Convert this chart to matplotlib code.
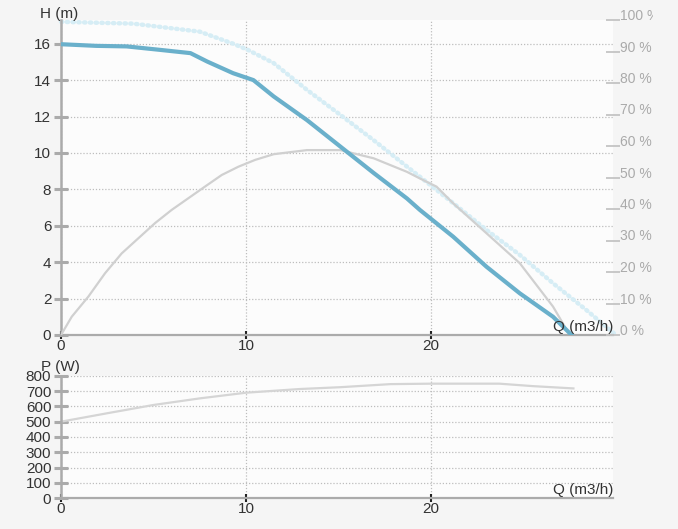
import matplotlib
matplotlib.use('Agg')
from matplotlib import pyplot as plt
from matplotlib.patches import Rectangle
import numpy as np

plt.rcParams['font.family'] = ['Liberation Sans', 'DejaVu Sans']

# pump head curve (m)
q_head = [0, 1.9, 3.55, 5.35, 7.0, 7.9, 9.3, 10.4, 11.5, 13.3, 15.1, 16.9, 18.7, 19.4, 21.2, 23.0, 24.8, 26.6, 27.6]
head = [15.97, 15.88, 15.85, 15.66, 15.48, 15.02, 14.38, 14.0, 13.1, 11.8, 10.35, 8.9, 7.5, 6.87, 5.4, 3.75, 2.29, 1.0, 0]

# max head curve (light dotted)
q_hmax = [0, 3.9, 7.5, 9.3, 10.1, 11.5, 13.3, 15.1, 16.9, 18.7, 20.3, 21.2, 23.0, 24.8, 26.6, 28.4, 30.0]
hmax = [17.2, 17.1, 16.66, 16.0, 15.66, 14.93, 13.46, 12.09, 10.7, 9.25, 7.97, 7.24, 5.77, 4.4, 2.84, 1.37, 0]

# efficiency (%)
q_eff = [0, 0.58, 1.48, 2.38, 3.28, 4.18, 5.08, 5.98, 6.88, 7.78, 8.69, 9.58, 10.5, 11.5, 13.3, 15.1,
         16.9, 18.7, 19.4, 20.3, 21.2, 23.0, 24.8, 26.6, 27.3]
eff = [0, 5.8, 12.2, 19.6, 25.9, 30.7, 35.5, 39.7, 43.4, 47.1, 50.8, 53.4, 55.6, 57.4, 58.7, 58.7,
       56.1, 51.8, 49.7, 47.1, 41.8, 32.3, 22.8, 9.0, 2.0]

# power (W)
q_pow = [0, 2.5, 5, 7.5, 10, 12.9, 15.1, 17.8, 20, 23.7, 25.5, 27.7]
power = [500, 555, 609, 652, 689, 713, 725, 745, 748, 748, 732, 717]

h_ticks = [0, 2, 4, 6, 8, 10, 12, 14, 16]
eff_ticks = [0, 10, 20, 30, 40, 50, 60, 70, 80, 90, 100]
eff_labels = [str(t) + ' %' for t in eff_ticks]
p_ticks = [0, 100, 200, 300, 400, 500, 600, 700, 800]
q_ticks = [0, 10, 20]

W, Hpx = 678, 529
bg = '#f5f5f5'
area = '#fcfcfc'
spine_c = '#ababab'
grid_c = '#bdbdbd'
txt_c = '#333333'

fig = plt.figure(figsize=(W / 100, Hpx / 100), dpi=100, facecolor=bg)

def px_axes(x0, y0, x1, y1):
    return fig.add_axes([x0 / W, 1 - y1 / Hpx, (x1 - x0) / W, (y1 - y0) / Hpx])

def style(ax):
    ax.set_facecolor(area)
    for s in ['top', 'right']:
        ax.spines[s].set_visible(False)
    ax.spines['left'].set_color(spine_c)
    ax.spines['left'].set_linewidth(1.8)
    ax.spines['bottom'].set_color(spine_c)
    ax.spines['bottom'].set_linewidth(1.6)
    ax.tick_params(axis='y', direction='inout', length=10, width=2.2, color=spine_c,
                   pad=2, labelsize=11, labelcolor=txt_c)
    ax.tick_params(axis='x', direction='inout', length=6, width=1.5, color='#222222',
                   pad=0, labelsize=11, labelcolor=txt_c)
    ax.grid(True, linestyle=(0, (1, 1.5)), color=grid_c, linewidth=0.9)
    ax.set_axisbelow(True)
    ax.set_xticks(q_ticks)

# top chart
ax = px_axes(61, 20, 613, 335)
style(ax)
ax.set_xlim(0, 29.84)
ax.set_ylim(0, 17.3)
ax.set_yticks(h_ticks)

ax2 = ax.twinx()
ax2.set_ylim(0, 100)
ax2.set_yticks(eff_ticks)
ax2.set_yticklabels(eff_labels)
for s in ['top', 'right', 'left', 'bottom']:
    ax2.spines[s].set_visible(False)
ax2.tick_params(axis='y', direction='inout', length=10, width=1.3, color='#c4c4c4',
                pad=0.3, labelsize=10, labelcolor='#aaaaaa')
for lbl in ax2.get_yticklabels():
    lbl.set_va('baseline')

ax.plot(q_hmax, hmax, color='#d6edf5', lw=3.2, linestyle=(0, (0.3, 1.0)),
        dash_capstyle='round', clip_on=False, zorder=2)
ax.plot(q_eff, eff, color='#d0d0d0', lw=1.6, transform=ax2.transData, zorder=3)
ax.plot(q_head, head, color='#6ab0cb', lw=3.0, zorder=4)
ax.text(1.0, 0.004, 'Q (m3/h)', transform=ax.transAxes, ha='right', va='bottom',
        fontsize=11, color=txt_c, zorder=5)
fig.text(40 / W, 1 - 14 / Hpx, 'H (m)', ha='left', va='center', fontsize=11, color=txt_c)

# bottom chart
axp = px_axes(61, 375.7, 613, 498.3)
style(axp)
axp.set_xlim(0, 29.84)
axp.set_ylim(0, 800)
axp.set_yticks(p_ticks)
axp.plot(q_pow, power, color='#d5d5d5', lw=1.6)
axp.text(1.0, 0.01, 'Q (m3/h)', transform=axp.transAxes, ha='right', va='bottom',
         fontsize=11, color=txt_c)
fig.text(41 / W, 1 - 367 / Hpx, 'P (W)', ha='left', va='center', fontsize=11, color=txt_c)

# cut off the right edge like the original widget
fig.add_artist(Rectangle((652.5 / W, 0), 1, 1, transform=fig.transFigure,
                         facecolor=bg, edgecolor='none', zorder=10))

fig.savefig('out.png', dpi=100, facecolor=bg)
